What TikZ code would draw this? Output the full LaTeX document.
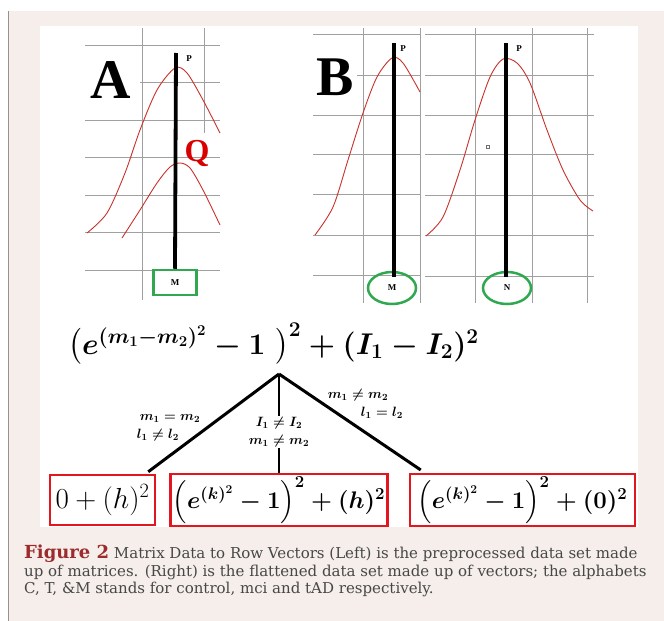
\RequirePackage{fix-cm}
\documentclass[tikz,border=0pt]{standalone}
\usepackage{amsmath,amssymb}
\usepackage[no-math]{fontspec}
\setmainfont{Liberation Serif}
\newfontfamily\piefont{DejaVu Serif}
\usepackage{xcolor}
\usepackage{tikz}
\usetikzlibrary{positioning,shapes.geometric}
\definecolor{fondo}{HTML}{F5EEEA}
\definecolor{gris}{HTML}{A0A0A0}
\definecolor{borde}{HTML}{9C8E8C}
\definecolor{curva}{HTML}{C8322C}
\definecolor{verde}{HTML}{2FA84F}
\definecolor{rojo}{HTML}{E3161F}
\definecolor{granate}{HTML}{9B2B2C}
\definecolor{texto}{HTML}{474747}

\begin{document}
\begin{tikzpicture}[
  x=1pt, y=-1pt,
  reja/.style={draw=gris, line width=0.8pt},
  campana/.style={draw=curva, line width=0.9pt},
  poste/.style={line width=3.8pt},
  letra/.style={font=\bfseries\fontsize{9}{9}\selectfont, inner sep=0pt},
  marco/.style={draw=verde, line width=2.5pt, fill=white, minimum width=43pt, minimum height=25pt, inner sep=0pt, font=\bfseries\fontsize{9}{9}\selectfont},
  anillo/.style={ellipse, draw=verde, line width=2.5pt, minimum width=48pt, minimum height=32pt, inner sep=0pt, font=\bfseries\fontsize{9}{9}\selectfont},
  grande/.style={font=\bfseries\fontsize{56}{56}\selectfont, inner sep=0pt},
  res/.style={draw=rojo, line width=2.5pt, minimum height=50pt, inner sep=2pt},
  rama/.style={line width=3pt},
  cond/.style={font=\fontsize{13.5}{18}\selectfont\boldmath, align=center, inner sep=1pt}
]
  \useasboundingbox (0,0) rectangle (664,621);
  \fill[fondo] (8,11) rectangle (664,621);
  \draw[borde, line width=0.8pt] (8,11) -- (8,621);
  \fill[white] (40,26) rectangle (638,527);

  % panel A
  \foreach \y in {45,120,157,195,232,270}
    \draw[reja] (85,\y) -- (220,\y);
  \draw[reja] (140,82) -- (220,82);
  \draw[reja] (142,28) -- (142,300);
  \draw[reja] (204,28) -- (204,133);
  \draw[campana] plot[smooth] coordinates {(87,233) (107,213) (125,173) (140,130) (157,90) (175,68) (187,73) (203,100) (220,133)};
  \draw[campana] plot[smooth] coordinates {(122,238) (140,210) (157,183) (170,167) (180,163) (190,168) (203,190) (220,225)};
  \node[grande] (letA) at (111,80) {A};
  \node[font=\bfseries\fontsize{32}{32}\selectfont, text=red!85!black, inner sep=0pt] (q) at (197,153) {Q};
  \node[marco] (mA) at (175,282.5) {M};
  \coordinate (topA) at (176,53);
  \draw[poste] (topA) -- (mA.north);
  \node[letra] (pA) at (189,59) {P};

  % panel B
  \foreach \y in {34,115,154,194,235,275}
    \draw[reja] (313,\y) -- (420,\y);
  \draw[reja] (357,75) -- (420,75);
  \foreach \x in {363,420}
    \draw[reja] (\x,28) -- (\x,303);
  \foreach \y in {34,75,115,154,195,235,276}
    \draw[reja] (425,\y) -- (594,\y);
  \foreach \x in {475,532,587}
    \draw[reja] (\x,28) -- (\x,303);
  \draw[campana] plot[smooth] coordinates {(315,235) (333,207) (348,160) (363,113) (377,77) (392,58) (403,63) (420,92)};
  \draw[campana] plot[smooth] coordinates {(426,236) (443,217) (460,170) (475,120) (490,77) (503,59) (517,63) (530,83) (547,130) (563,170) (580,200) (593,211)};
  \draw[gris!70!black, line width=0.6pt] (486.5,145.5) rectangle +(3,3);
  \node[grande] (letB) at (335,77) {B};
  \node[anillo] (mB) at (392,288) {M};
  \node[anillo] (nB) at (507,288) {N};
  \coordinate (topB) at (394,43);
  \coordinate (botB) at (394,277);
  \coordinate (topC) at (506,43);
  \coordinate (botC) at (506,277);
  \draw[poste] (topB) -- (botB);
  \draw[poste] (topC) -- (botC);
  \node[letra] (pB) at (403,49) {P};
  \node[letra] (pC) at (519,49) {P};

  % formula y ramas
  \node[font=\fontsize{30}{34}\selectfont\boldmath, inner sep=0pt] (expr) at (273.5,344)
    {$\bigl(e^{(m_1-m_2)^2}-1\;\bigr)^2+(I_1-I_2)^2$};
  \coordinate (cima) at (279,374);
  \node[res, minimum width=105pt, font=\fontsize{29}{31}\selectfont] (r1) at (102.5,500) {$0+(h)^2$};
  \node[res, minimum width=217pt, font=\fontsize{24}{27}\selectfont\boldmath] (r2) at (279,500) {$\left(e^{(k)^2}-1\right)^2+(h)^2$};
  \node[res, minimum width=225pt, font=\fontsize{24}{27}\selectfont\boldmath] (r3) at (522.5,500) {$\left(e^{(k)^2}-1\right)^2+(0)^2$};
  \draw[rama] (cima) -- ([xshift=-8pt,yshift=2pt]r1.north east);
  \draw[rama] (cima) -- ([xshift=12pt,yshift=3pt]r3.north west);
  \draw[line width=2pt] (cima) -- (r2.north);
  \node[cond] (c1) at (170,427.5) {$m_1=m_2$\\$l_1\neq l_2$\hspace*{24pt}};
  \node[cond, fill=white] (c2) at (279,432) {$I_1\neq I_2$\\$m_1\neq m_2$};
  \node[cond] (c3) at (358,404) {$m_1\neq m_2$\\\hspace*{48pt}$l_1=l_2$};

  % pie
  \node[anchor=north west, align=left, text=texto, inner sep=0pt, font=\piefont\fontsize{15}{17.5}\selectfont] (pie) at (24,545)
    {{\color{granate}\bfseries\fontsize{18}{17.5}\selectfont Figure 2} Matrix Data to Row Vectors (Left) is the preprocessed data set made\\
     up of matrices. (Right) is the flattened data set made up of vectors; the alphabets\\
     C, T, \&M stands for control, mci and tAD respectively.};
\end{tikzpicture}
\end{document}
